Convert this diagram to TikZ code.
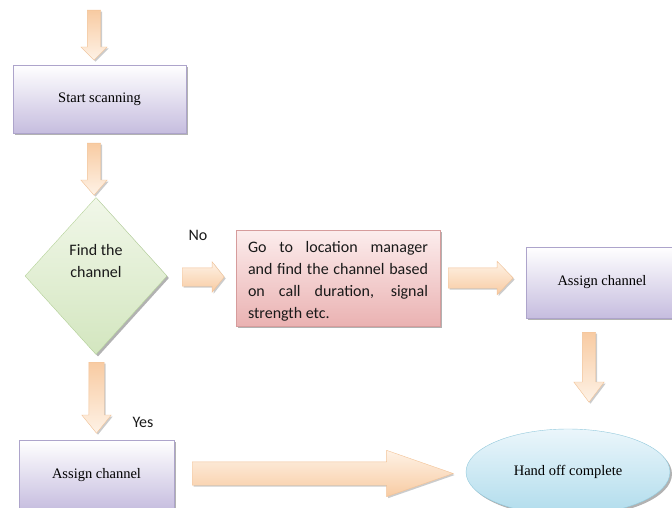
\documentclass[tikz,border=0pt]{standalone}
\usepackage{fontspec}
\setmainfont{Liberation Serif}
\newfontfamily\calib{Carlito}
\usetikzlibrary{shapes.geometric,shapes.arrows,shadows}
\definecolor{lavline}{HTML}{ADA4CB}
\definecolor{lavfill}{HTML}{C6BDDF}
\definecolor{pinkA}{HTML}{FCEDED}
\definecolor{pinkB}{HTML}{EAB2B2}
\definecolor{pinkline}{HTML}{D69C9C}
\definecolor{greenA}{HTML}{F1F7E9}
\definecolor{greenB}{HTML}{D3E6BF}
\definecolor{greenline}{HTML}{B6D39B}
\definecolor{blueA}{HTML}{EBF6FB}
\definecolor{blueB}{HTML}{B0DCEC}
\definecolor{blueline}{HTML}{92C9DC}
\definecolor{peachA}{HTML}{FEF2E6}
\definecolor{peachB}{HTML}{F8CBA2}
\definecolor{peachline}{HTML}{F2C296}
\begin{document}
\begin{tikzpicture}[x=1pt,y=-1pt,
  boxshadow/.style={drop shadow={shadow xshift=2pt,shadow yshift=-2pt,fill=black,opacity=0.3}},
  lavbox/.style={rectangle, draw=lavline, top color=white, bottom color=lavfill, boxshadow,
    font=\fontsize{14.5}{17}\selectfont, inner sep=0pt},
  sans/.style={font=\calib\fontsize{16}{22}\selectfont, text=black!90},
  barrow/.style={single arrow, draw=peachline, inner xsep=0pt, minimum width=0pt,
    single arrow head indent=0pt,
    drop shadow={shadow xshift=1.5pt,shadow yshift=-1.5pt,fill=black,opacity=0.2}},
  vbarrow/.style={barrow, rotate=-90, top color=peachB, bottom color=peachA},
  hbarrow/.style={barrow, top color=peachA, bottom color=peachB}
]
\useasboundingbox (0,0) rectangle (672,508);
\clip (0,0) rectangle (672,508);

% boxes
\node[lavbox, minimum width=173, minimum height=68] (start) at (99.5,99) {Start scanning};
\node[diamond, draw=greenline, top color=greenA, bottom color=greenB, boxshadow,
  minimum width=142, minimum height=157, inner sep=0pt] (find) at (96,276) {};
\node[sans, align=center] (findtxt) at (96,261) {Find the\\channel};
\node[rectangle, draw=pinkline, top color=pinkA, bottom color=pinkB, boxshadow,
  minimum width=204, minimum height=96, inner sep=0pt] (loc) at (338,278) {};
\node[sans, text width=180, align=justify, inner sep=0pt] (loctxt) at (338,281)
  {Go to location manager\linebreak and find the channel based\linebreak on call duration, signal\linebreak strength etc.};
\node[lavbox, minimum width=152, minimum height=71] (assignR) at (602,282.5) {Assign channel};
\node[lavbox, minimum width=155, minimum height=70] (assignL) at (96.5,475) {Assign channel};
\node[ellipse, draw=blueline, top color=blueA, bottom color=blueB, boxshadow,
  minimum width=204, minimum height=86, inner sep=0pt,
  font=\fontsize{14.5}{17}\selectfont] (hand) at (568,472) {Hand off complete};

% labels
\node[sans] (no) at (198,235) {No};
\node[sans] (yes) at (143,422) {Yes};

% block arrows
\node[vbarrow, anchor=tail, minimum height=50, inner ysep=6.5pt,
  single arrow head extend=6.5pt, single arrow tip angle=90] (a1) at (94,10) {};
\node[vbarrow, anchor=tail, minimum height=52, inner ysep=6.5pt,
  single arrow head extend=6.5pt, single arrow tip angle=82] (a2) at (94,143) {};
\node[vbarrow, anchor=tail, minimum height=71, inner ysep=7.5pt,
  single arrow head extend=7pt, single arrow tip angle=78] (a3) at (96.5,362) {};
\node[hbarrow, anchor=tail, minimum height=42, inner ysep=9pt,
  single arrow head extend=6pt, single arrow tip angle=103] (a4) at (182,277) {};
\node[hbarrow, anchor=tail, minimum height=65, inner ysep=10pt,
  single arrow head extend=6.5pt, single arrow tip angle=92] (a5) at (448,278) {};
\node[vbarrow, anchor=tail, minimum height=70, inner ysep=6.5pt,
  single arrow head extend=8.5pt, single arrow tip angle=74] (a6) at (589,332) {};
\node[hbarrow, anchor=tail, minimum height=261, inner ysep=11.5pt,
  single arrow head extend=11.5pt, single arrow tip angle=38.4] (a7) at (192,473.5) {};
\end{tikzpicture}
\end{document}
